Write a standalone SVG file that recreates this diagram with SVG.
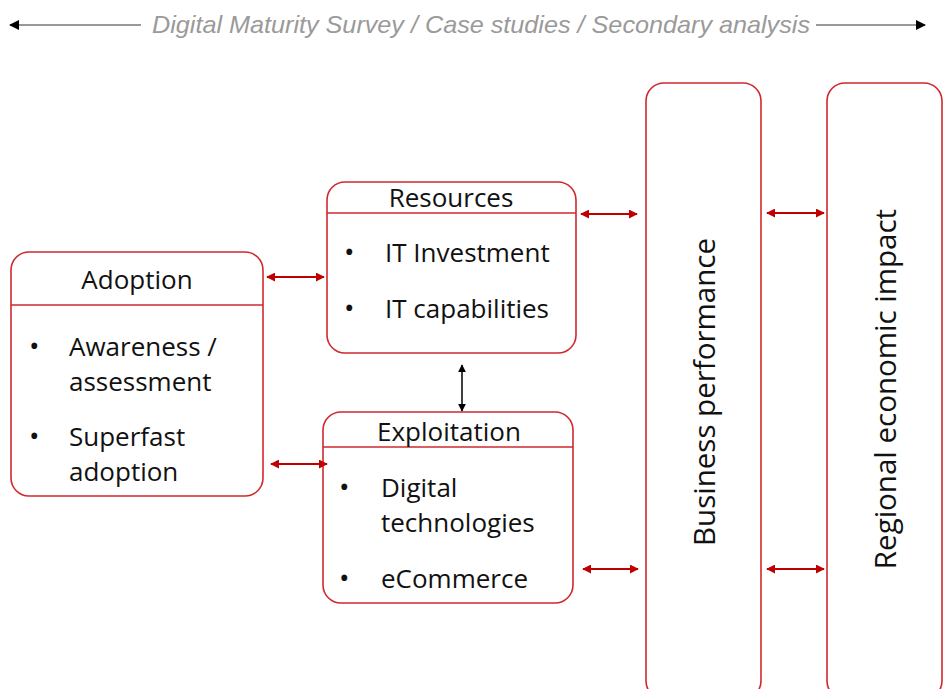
<svg xmlns="http://www.w3.org/2000/svg" width="949" height="689" viewBox="0 0 949 689">
  <style>
    .box { fill: #ffffff; stroke: #d0282e; stroke-width: 1.6; }
    .rule { stroke: #d0282e; stroke-width: 1.6; }
    .head { font-family: "Open Sans", "Liberation Sans", sans-serif; font-size: 26px; fill: #111111; text-anchor: middle; }
    .item { font-family: "Open Sans", "Liberation Sans", sans-serif; font-size: 26px; fill: #111111; }
    .dot { font-family: "Open Sans", "Liberation Sans", sans-serif; font-size: 28px; fill: #111111; }
    .tall { font-family: "Open Sans", "Liberation Sans", sans-serif; font-size: 29.5px; fill: #111111; text-anchor: middle; }
    .title { font-family: "Liberation Sans", Arial, sans-serif; font-style: italic; font-size: 24px; fill: #9a9a9a; }
    .link { stroke: #c00000; stroke-width: 1.8; fill: none; marker-start: url(#redArrow); marker-end: url(#redArrow); }
    .blink { stroke: #111111; stroke-width: 1.6; fill: none; marker-start: url(#blackArrow); marker-end: url(#blackArrow); }
    .scope-left { stroke: #999999; stroke-width: 2; fill: none; marker-start: url(#blackArrow); }
    .scope-right { stroke: #999999; stroke-width: 2; fill: none; marker-end: url(#blackArrow); }
  </style>
  <defs>
    <marker id="redArrow" viewBox="0 0 10 10" refX="9" refY="5" markerWidth="5" markerHeight="5" orient="auto-start-reverse">
      <path d="M0,0 L10,5 L0,10 z" fill="#c00000"/>
    </marker>
    <marker id="blackArrow" viewBox="0 0 10 10" refX="9" refY="5" markerWidth="5" markerHeight="5" orient="auto-start-reverse">
      <path d="M0,0 L10,5 L0,10 z" fill="#000000"/>
    </marker>
  </defs>

  <!-- scope banner across the top -->
  <g id="scope">
    <line class="scope-left" x1="10" y1="25" x2="141" y2="25"/>
    <line class="scope-right" x1="816" y1="25" x2="925" y2="25"/>
    <text class="title" x="152" y="33" textLength="658" lengthAdjust="spacingAndGlyphs">Digital Maturity Survey / Case studies / Secondary analysis</text>
  </g>

  <!-- Adoption -->
  <g id="adoption">
    <rect class="box" x="11" y="252" width="252" height="244" rx="18"/>
    <line class="rule" x1="11" y1="305" x2="263" y2="305"/>
    <text class="head" x="137" y="289">Adoption</text>
    <text class="dot" x="29" y="356">•</text>
    <text class="item" x="69" y="356">Awareness /</text>
    <text class="item" x="69" y="391">assessment</text>
    <text class="dot" x="29" y="446">•</text>
    <text class="item" x="69" y="446">Superfast</text>
    <text class="item" x="69" y="481">adoption</text>
  </g>

  <!-- Resources -->
  <g id="resources">
    <rect class="box" x="327" y="182" width="249" height="171" rx="18"/>
    <line class="rule" x1="327" y1="213" x2="576" y2="213"/>
    <text class="head" x="451" y="207">Resources</text>
    <text class="dot" x="344" y="262">•</text>
    <text class="item" x="385" y="262">IT Investment</text>
    <text class="dot" x="344" y="318">•</text>
    <text class="item" x="385" y="318">IT capabilities</text>
  </g>

  <!-- Exploitation -->
  <g id="exploitation">
    <rect class="box" x="323" y="412" width="250" height="191" rx="18"/>
    <line class="rule" x1="323" y1="447" x2="573" y2="447"/>
    <text class="head" x="449" y="441">Exploitation</text>
    <text class="dot" x="339" y="497">•</text>
    <text class="item" x="381" y="497">Digital</text>
    <text class="item" x="381" y="532">technologies</text>
    <text class="dot" x="339" y="588">•</text>
    <text class="item" x="381" y="588">eCommerce</text>
  </g>

  <!-- Business performance -->
  <g id="business-performance">
    <rect class="box" x="646" y="83" width="115" height="616" rx="18"/>
    <text class="tall" transform="translate(715,392) rotate(-90)">Business performance</text>
  </g>

  <!-- Regional economic impact -->
  <g id="regional-impact">
    <rect class="box" x="827" y="83" width="115" height="616" rx="18"/>
    <text class="tall" transform="translate(896,389) rotate(-90)">Regional economic impact</text>
  </g>

  <!-- connectors -->
  <g id="connectors">
    <line class="link" x1="267" y1="277" x2="324" y2="277"/>
    <line class="link" x1="271" y1="464" x2="327" y2="464"/>
    <line class="link" x1="581" y1="214" x2="637" y2="214"/>
    <line class="link" x1="583" y1="569" x2="638" y2="569"/>
    <line class="link" x1="767" y1="213" x2="824" y2="213"/>
    <line class="link" x1="767" y1="569" x2="824" y2="569"/>
    <line class="blink" x1="462" y1="365" x2="462" y2="411"/>
  </g>
</svg>
